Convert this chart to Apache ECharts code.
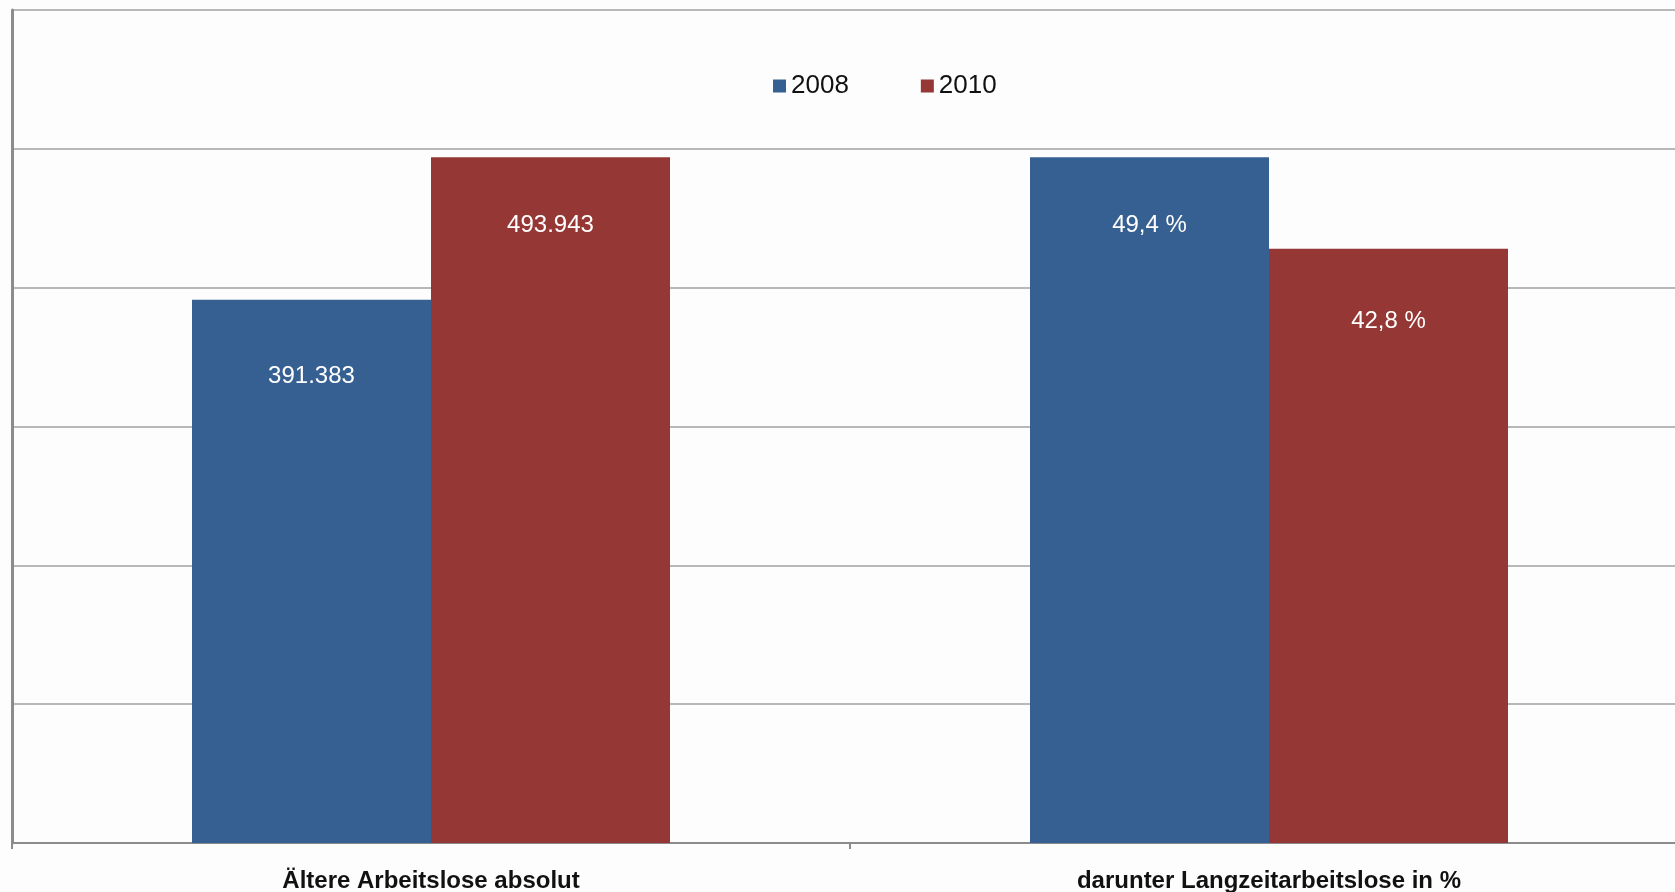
<!DOCTYPE html>
<html>
<head>
<meta charset="utf-8">
<script src="https://cdn.jsdelivr.net/npm/echarts@6/dist/echarts.min.js"></script>
<style>
html, body { margin: 0; padding: 0; background: #fdfdfd; }
#chart { width: 1675px; height: 892px; }
</style>
</head>
<body>
<div id="chart"></div>
<script>
var categories = ['Ältere Arbeitslose absolut', 'darunter Langzeitarbeitslose in %']
var seriesNames = ['2008', '2010']
// first value absolute, second value in percent
var values2008 = [391383, 49.4]
var values2010 = [493943, 42.8]
// percent drawn on the same axis: 1 % -> 10000
var percentScale = 10000

function fmt(v, i) {
    if (i == 0) return String(v).replace(/\B(?=(\d{3})+(?!\d))/g, '.')
    return v.toFixed(1).replace('.', ',') + ' %'
}

// label offset below bar top, per bar (px)
function makeSeries(name, vals, color, offsets) {
    return {
        name: name,
        type: 'bar',
        barWidth: 239,
        barGap: '0%',
        itemStyle: { color: color },
        label: {
            show: true,
            position: 'insideTop',
            color: '#ffffff',
            fontSize: 24,
            fontFamily: 'Liberation Sans, Arial, sans-serif',
            formatter: function (p) { return fmt(vals[p.dataIndex], p.dataIndex) }
        },
        data: vals.map(function (v, i) {
            return { value: i == 0 ? v : v * percentScale, label: { distance: offsets[i] } }
        })
    }
}

var chart = echarts.init(document.getElementById('chart'))
chart.setOption({
    animation: false,
    backgroundColor: '#fdfdfd',
    grid: { left: 12, top: 10, width: 1676, height: 833, containLabel: false, outerBoundsMode: 'none' },
    legend: {
        left: 768,
        top: 68,
        itemWidth: 13,
        itemHeight: 13,
        itemGap: 72,
        icon: 'rect',
        textStyle: { fontSize: 26, color: '#111', fontFamily: 'Liberation Sans, Arial, sans-serif' },
        data: seriesNames
    },
    xAxis: {
        type: 'category',
        data: categories,
        axisLine: { lineStyle: { color: '#8c8c8c', width: 2 } },
        axisTick: { show: true, length: 6, lineStyle: { color: '#8c8c8c', width: 2 } },
        axisLabel: {
            margin: 26,
            fontSize: 24,
            fontWeight: 'bold',
            color: '#111',
            fontFamily: 'Liberation Sans Narrow, Liberation Sans, Arial, sans-serif'
        }
    },
    yAxis: {
        type: 'value',
        min: 0,
        max: 600000,
        interval: 100000,
        axisLabel: { show: false },
        axisTick: { show: false },
        axisLine: { show: true, lineStyle: { color: '#8c8c8c', width: 3 } },
        splitLine: { lineStyle: { color: '#b8b8b8', width: 2 } }
    },
    series: [
        makeSeries(seriesNames[0], values2008, '#376092', [65, 56]),
        makeSeries(seriesNames[1], values2010, '#953735', [56, 61])
    ]
})
</script>
</body>
</html>
